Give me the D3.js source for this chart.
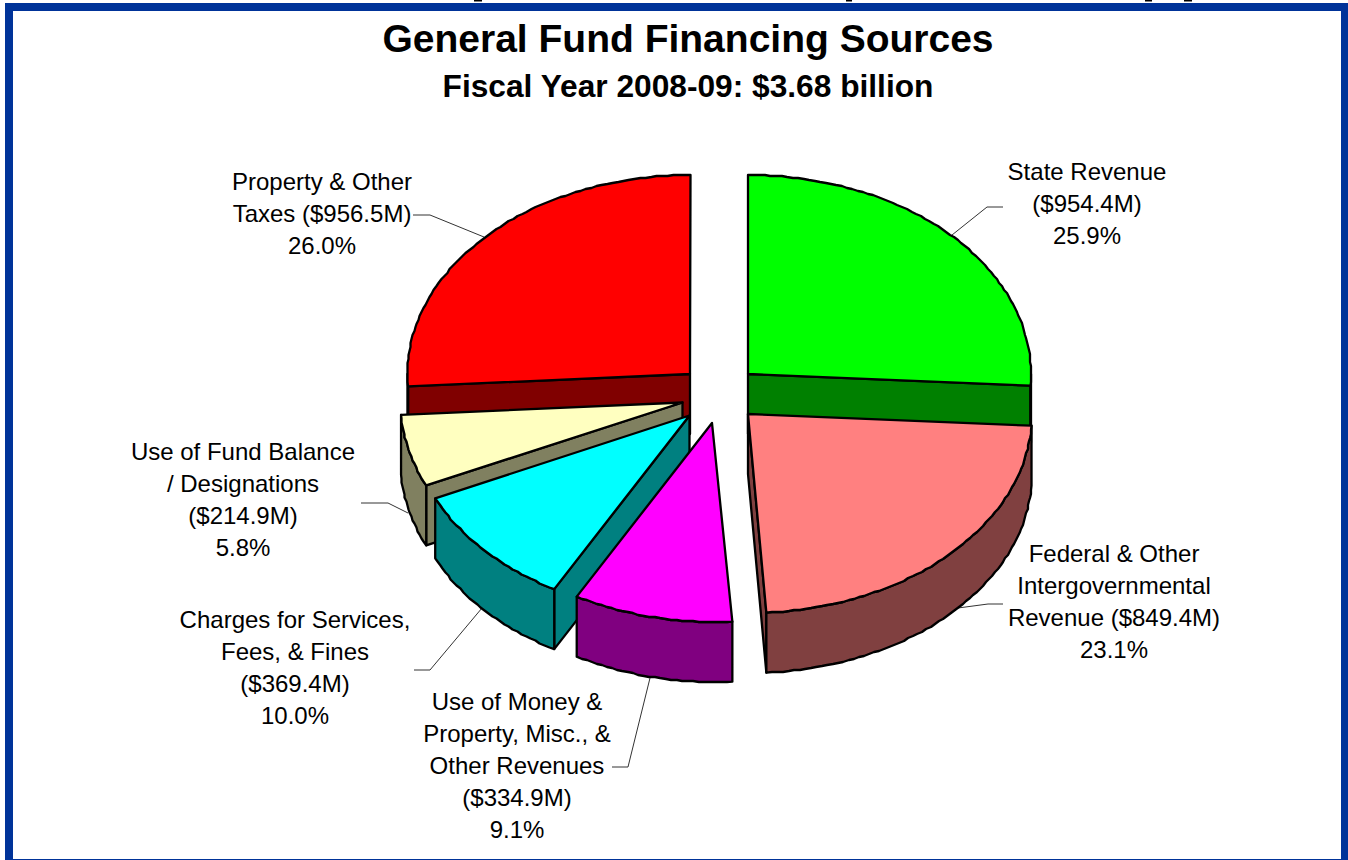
<!DOCTYPE html>
<html>
<head>
<meta charset="utf-8">
<script src="https://cdn.jsdelivr.net/npm/d3@7"></script>
<style>
  body{margin:0;background:#fff;}
  svg{display:block;font-family:"Liberation Sans",Arial,sans-serif;}
</style>
</head>
<body>
<div id="mainPlot"></div>
<script>
/*General Fund financing sources, FY 2008-09*/
const categories = ["State Revenue","Federal & Other Intergovernmental Revenue","Use of Money & Property, Misc., & Other Revenues","Charges for Services, Fees, & Fines","Use of Fund Balance / Designations","Property & Other Taxes"];
const amounts = [954.4,849.4,334.9,369.4,214.9,956.5];
const amountLabels = ["($954.4M)","($849.4M)","($334.9M)","($369.4M)","($214.9M)","($956.5M)"];
const percentLabels = ["25.9%","23.1%","9.1%","10.0%","5.8%","26.0%"];
const titleText = "General Fund Financing Sources";
const subTitleText = "Fiscal Year 2008-09: $3.68 billion";

// wrapped the way the original labels wrap
const labelLines = [
  ["State Revenue",amountLabels[0],percentLabels[0]],
  ["Federal & Other","Intergovernmental","Revenue "+amountLabels[1],percentLabels[1]],
  ["Use of Money &","Property, Misc., &","Other Revenues",amountLabels[2],percentLabels[2]],
  ["Charges for Services,","Fees, & Fines",amountLabels[3],percentLabels[3]],
  ["Use of Fund Balance","/ Designations",amountLabels[4],percentLabels[4]],
  ["Property & Other","Taxes "+amountLabels[5],percentLabels[5]]
];

// layout, same order as categories
const sliceColors = ["#00ff00","#ff8080","#ff00ff","#00ffff","#ffffc0","#ff0000"];
const explode = [[748,374],[749,414],[715,423],[692.5,415.5],[683.5,402.5],[690.5,374]];
const apexShift = [0,-1,-3,-3,-1,-0.5]; // the tip of a slice sits a little off the rim centre
const paintOrder = [5,0,1,4,3,2];
const labelPos = [[1087,180],[1114,562],[517,710],[295,628],[243,460],[322,190]];
const leaders = [
  [[952,235],[987,207],[1003,207]],
  [[958,608],[988,604],[1003,604]],
  [[650,678],[628,767],[612,767]],
  [[482,608],[430,670],[414,670]],
  [[361,503],[388,503],[408,513]],
  [[484,237],[430,215],[413,215]]
];

const width = 1348, height = 860;
const rx = 283, ry = 199, depth = 60, lineGap = 32;

const svg = d3.select("#mainPlot").append("svg")
              .attr("width",width)
              .attr("height",height);

// blue frame
svg.append("rect").attr("x",5).attr("y",3).attr("width",1343).attr("height",857).attr("fill","#003399");
svg.append("rect").attr("x",13).attr("y",11).attr("width",1328).attr("height",848).attr("fill","#fff");
// bits of the line cut off above the frame
[[474,8],[846,6],[1145,7],[1184,8]].forEach((d)=>{
  svg.append("rect").attr("x",d[0]).attr("y",0).attr("width",d[1]).attr("height",1.5).attr("fill","#000");
});

svg.append("text").attr("x",688).attr("y",52).attr("text-anchor","middle")
   .attr("font-size",39).attr("font-weight","bold").text(titleText);
svg.append("text").attr("x",688).attr("y",97).attr("text-anchor","middle")
   .attr("font-size",31.7).attr("font-weight","bold").text(subTitleText);

// leader lines go under the pie
const leaderLine = d3.line();
leaders.forEach((d)=>{
  svg.append("path").attr("d",leaderLine(d)).attr("fill","none").attr("stroke","#333").attr("stroke-width",1);
});

// unit circle -> tilted ellipse
const xScale = d3.scaleLinear().domain([-1,1]).range([-rx,rx]);
const yScale = d3.scaleLinear().domain([-1,1]).range([ry,-ry]);
const pie = d3.pie().sort(null)(amounts);

function rimPoint(angle){
  return [xScale(Math.sin(angle)),yScale(Math.cos(angle))];
}
// the original outline is slightly stepped, so snap the rim to a small grid
function rimArc(a0,a1){
  const n = Math.max(2,Math.ceil(Math.abs(a1-a0)/0.02));
  return d3.range(n+1).map((i)=>{
    const p = rimPoint(a0+(a1-a0)*i/n);
    return (i==0 || i==n) ? p : [Math.round(p[0]),Math.round(p[1])];
  });
}
function sideColor(c){
  const col = d3.rgb(c);
  return d3.rgb(col.r/2,col.g/2,col.b/2).formatHex();
}
const closed = d3.line().curve(d3.curveLinearClosed);

function drawFace(g,pts,fill){
  g.append("path").attr("d",closed(pts)).attr("fill",fill)
   .attr("stroke","#000").attr("stroke-width",2.3).attr("stroke-linejoin","round");
}

paintOrder.forEach((idx)=>{
  const d = pie[idx];
  const g = svg.append("g").attr("transform","translate("+explode[idx][0]+","+explode[idx][1]+")");
  const dark = sideColor(sliceColors[idx]);
  const a0 = d.startAngle, a1 = d.endAngle;
  const tip = [apexShift[idx],0];
  const drop = (p)=> [p[0],p[1]+depth];
  // cut faces, only the ones turned to the viewer
  if(Math.sin(a0) < 0){
    const p = rimPoint(a0);
    drawFace(g,[tip,p,drop(p),drop(tip)],dark);
  }
  if(Math.sin(a1) > 0){
    const p = rimPoint(a1);
    drawFace(g,[tip,p,drop(p),drop(tip)],dark);
  }
  // outer wall, lower half of the rim
  const w0 = Math.max(a0,Math.PI/2), w1 = Math.min(a1,Math.PI*1.5);
  if(w1 > w0){
    const rim = rimArc(w0,w1);
    drawFace(g,rim.concat(rim.slice().reverse().map(drop)),dark);
  }
  drawFace(g,[tip].concat(rimArc(a0,a1)),sliceColors[idx]);
});

labelLines.forEach((lines,idx)=>{
  const txt = svg.append("text").attr("text-anchor","middle").attr("font-size",24).attr("fill","#000");
  lines.forEach((t,i)=>{
    txt.append("tspan").attr("x",labelPos[idx][0]).attr("y",labelPos[idx][1]+i*lineGap).text(t);
  });
});
</script>
</body>
</html>
